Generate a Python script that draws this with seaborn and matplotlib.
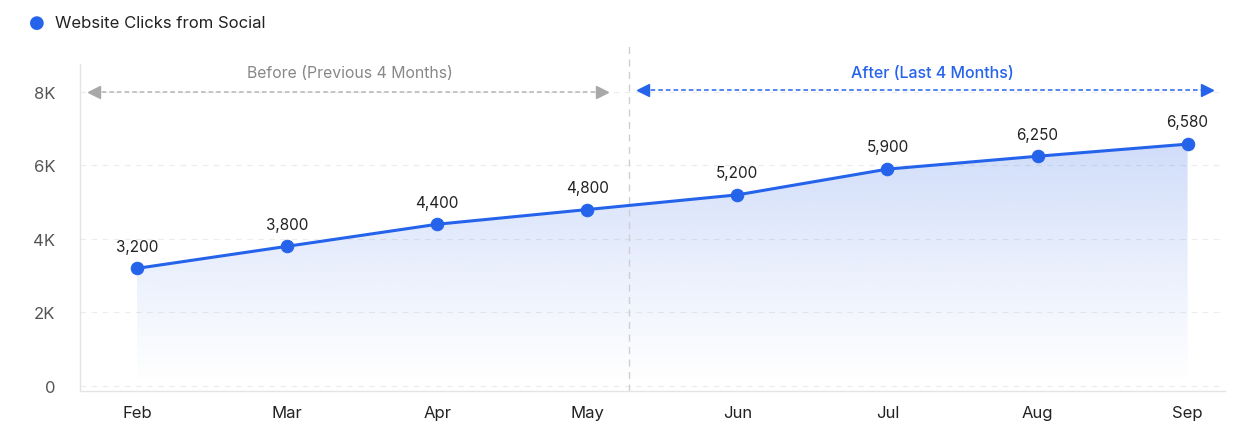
import matplotlib
matplotlib.use("Agg")
import matplotlib.pyplot as plt
import seaborn as sns
import numpy as np
import pandas as pd
from matplotlib.path import Path
from matplotlib.patches import PathPatch

months = ["Feb", "Mar", "Apr", "May", "Jun", "Jul", "Aug", "Sep"]
clicks = [3200, 3800, 4400, 4800, 5200, 5900, 6250, 6580]
series_name = "Website Clicks from Social"
ytick_vals = [0, 2000, 4000, 6000, 8000]
ytick_labels = ["0", "2K", "4K", "6K", "8K"]
before_label = "Before (Previous 4 Months)"
after_label = "After (Last 4 Months)"

sns.set_theme(style="white")
plt.rcParams['font.family'] = ['Inter', 'DejaVu Sans']

BLUE = "#2563eb"
df = pd.DataFrame({"x": np.arange(len(months)), "month": months, "clicks": clicks})

fig = plt.figure(figsize=(12.35, 4.35), dpi=100)
ax = fig.add_axes([0.0648, 0.0989, 0.9272, 0.7517])

# gradient fill under line
x = df["x"].values
y = df["clicks"].values
verts = [(x[0], 0)] + list(zip(x, y)) + [(x[-1], 0), (x[0], 0)]
codes = [Path.MOVETO] + [Path.LINETO] * (len(verts) - 2) + [Path.CLOSEPOLY]
clip = PathPatch(Path(verts, codes), facecolor="none", edgecolor="none")
ax.add_patch(clip)
grad = np.zeros((256, 1, 4))
rgb = matplotlib.colors.to_rgb("#3b6fe8")
grad[..., 0], grad[..., 1], grad[..., 2] = rgb
grad[:, 0, 3] = np.linspace(0.0, 0.24, 256) ** 1.1 / 0.24 ** 0.1
im = ax.imshow(grad, extent=[x[0], x[-1], 0, max(y)], origin="lower",
               aspect="auto", zorder=1, interpolation="bicubic")
im.set_clip_path(clip)

sns.lineplot(data=df, x="x", y="clicks", ax=ax, color=BLUE, linewidth=2.2,
             marker="o", markersize=9, markeredgecolor=BLUE, markerfacecolor=BLUE,
             zorder=3)

for xi, yi in zip(x, y):
    ax.annotate(f"{yi:,}", (xi, yi), xytext=(0, 16), textcoords="offset points",
                ha="center", va="center", fontsize=11, color="#222222")

ax.set_xlim(-0.38, 7.25)
ax.set_ylim(-136, 8760)
ax.set_xticks(x)
ax.set_xticklabels(months)
ax.set_yticks(ytick_vals)
ax.set_yticklabels(ytick_labels)
ax.set_xlabel("")
ax.set_ylabel("")
ax.tick_params(axis="x", length=4, color="#e2e2e2", pad=6, labelsize=12, labelcolor="#222222")
ax.tick_params(axis="y", length=4, color="#e2e2e2", pad=14, labelsize=12, labelcolor="#555555")
ax.yaxis.grid(True, linestyle=(0, (5, 5)), color="#ececec", linewidth=0.8)
ax.xaxis.grid(False)
for s in ["top", "right"]:
    ax.spines[s].set_visible(False)
for s in ["left", "bottom"]:
    ax.spines[s].set_color("#e4e4e4")
    ax.spines[s].set_linewidth(1.0)

# divider
ax.axvline(3.28, ymin=0, ymax=1.07, color="#cfcfcf", linestyle=(0, (5, 4)),
           linewidth=1.0, clip_on=False, zorder=2)

# before arrow
ax.plot([-0.29, 3.10], [8000, 8000], color="#b5b5b5", linestyle=(0, (3, 2)), linewidth=1.1, zorder=2)
ax.plot([-0.29], [8000], marker="<", color="#a8a8a8", markersize=8, zorder=2)
ax.plot([3.10], [8000], marker=">", color="#a8a8a8", markersize=8, zorder=2)
ax.text(1.42, 8520, before_label, ha="center", va="center", fontsize=11.4, color="#888888")

# after arrow
ax.plot([3.37, 7.13], [8050, 8050], color=BLUE, linestyle=(0, (3, 2)), linewidth=1.1, zorder=2)
ax.plot([3.37], [8050], marker="<", color=BLUE, markersize=8, zorder=2)
ax.plot([7.13], [8050], marker=">", color=BLUE, markersize=8, zorder=2)
ax.text(5.3, 8520, after_label, ha="center", va="center", fontsize=11.5, color=BLUE,
        fontweight="medium")

# legend
fig.text(37 / 1235, 1 - 23 / 435, "●", ha="center", va="center", fontsize=13, color=BLUE,
         family=["DejaVu Sans"])
fig.text(55 / 1235, 1 - 23 / 435, series_name, ha="left", va="center", fontsize=12, color="#222222")

fig.savefig("out.png", dpi=100, facecolor="white")
